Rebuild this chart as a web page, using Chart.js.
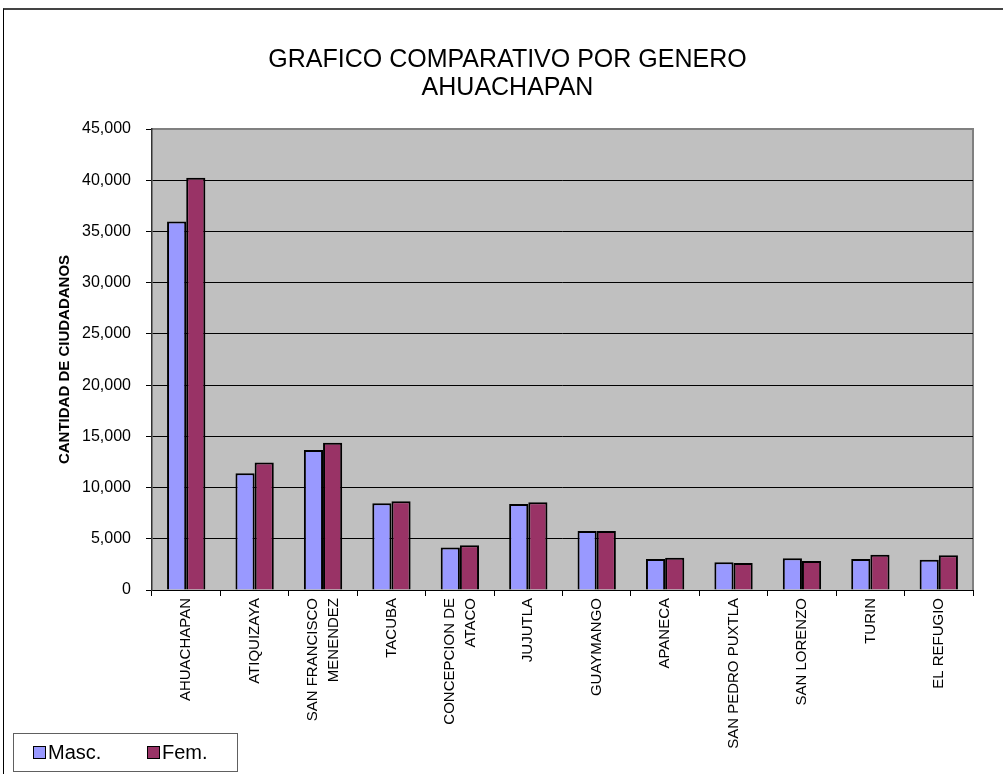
<!DOCTYPE html>
<html>
<head>
<meta charset="utf-8">
<script src="https://cdn.jsdelivr.net/npm/chart.js@4/dist/chart.umd.min.js"></script>
<style>
  html, body { margin: 0; padding: 0; background: #fff; }
  #frame {
    position: absolute; left: 3px; top: 8px; width: 1010px; height: 780px;
    border-top: 2px solid #444; border-left: 1px solid #000;
  }
  #wrap { position: absolute; left: 0; top: 0; width: 1003px; height: 774px; }
</style>
</head>
<body>
<div id="frame"></div>
<div id="wrap"><canvas id="chart"></canvas></div>
<script>
const categories = [
  "AHUACHAPAN",
  "ATIQUIZAYA",
  ["SAN FRANCISCO", "MENENDEZ"],
  "TACUBA",
  ["CONCEPCION DE", "ATACO"],
  "JUJUTLA",
  "GUAYMANGO",
  "APANECA",
  "SAN PEDRO PUXTLA",
  "SAN LORENZO",
  "TURIN",
  "EL REFUGIO",
];
const masc = [35980, 11400, 13660, 8460, 4140, 8400, 5770, 3030, 2700, 3090, 3030, 2960];
const fem = [40230, 12450, 14380, 8660, 4370, 8570, 5770, 3160, 2640, 2830, 3450, 3390];
const titleLines = ["GRAFICO COMPARATIVO POR GENERO", "AHUACHAPAN"];
const yTitle = "CANTIDAD DE CIUDADANOS";

const FONT = "'Liberation Sans', Arial, sans-serif";
Chart.defaults.color = "#000";
Chart.defaults.font.family = FONT;

// grey plot background plus the grey top/right border
const plotArea = {
  id: "plotArea",
  beforeDraw(chart) {
    const { ctx, chartArea: a } = chart;
    ctx.save();
    ctx.fillStyle = "#C0C0C0";
    ctx.fillRect(a.left, a.top, a.right - a.left, a.bottom - a.top);
    ctx.strokeStyle = "#808080";
    ctx.lineWidth = 2;
    ctx.beginPath();
    ctx.moveTo(a.left, a.top);
    ctx.lineTo(a.right, a.top);
    ctx.lineTo(a.right, a.bottom);
    ctx.stroke();
    ctx.restore();
  },
};

// centre two-line category labels on their tick instead of starting there
const centerMultiline = {
  id: "centerMultiline",
  beforeDraw(chart) {
    chart.scales.x.getLabelItems().forEach((item) => {
      if (Array.isArray(item.label) && !item._centred) {
        item.textOffset -= (item.label.length - 1) * item.font.lineHeight / 2;
        item._centred = true;
      }
    });
  },
};

// boxed legend in the lower left corner
const boxLegend = {
  id: "boxLegend",
  afterDraw(chart) {
    const ctx = chart.ctx;
    ctx.save();
    ctx.fillStyle = "#fff";
    ctx.fillRect(13, 733, 224, 38);
    ctx.strokeStyle = "#606060";
    ctx.lineWidth = 1;
    ctx.strokeRect(13.5, 733.5, 224, 38);
    const xs = [33, 147];
    ctx.font = "20px " + FONT;
    ctx.textBaseline = "middle";
    chart.data.datasets.forEach((ds, i) => {
      ctx.fillStyle = ds.backgroundColor;
      ctx.fillRect(xs[i], 746, 12, 12);
      ctx.strokeStyle = "#000";
      ctx.strokeRect(xs[i] + 0.5, 746.5, 12, 12);
      ctx.fillStyle = "#000";
      ctx.fillText(ds.label, xs[i] + 15, 753);
    });
    ctx.restore();
  },
};

new Chart(document.getElementById("chart"), {
  type: "bar",
  data: {
    labels: categories,
    datasets: [
      {
        label: "Masc.",
        data: masc,
        backgroundColor: "#9999FF",
        borderColor: "#000",
        borderWidth: 2,
      },
      {
        label: "Fem.",
        data: fem,
        backgroundColor: "#993366",
        borderColor: "#000",
        borderWidth: 2,
      },
    ],
  },
  options: {
    responsive: true,
    maintainAspectRatio: false,
    animation: false,
    barPercentage: 1.0,
    categoryPercentage: 0.56,
    layout: { padding: { left: 12, right: 0, top: 0, bottom: 0 } },
    plugins: {
      legend: { display: false },
      tooltip: { enabled: false },
      title: {
        display: true,
        text: titleLines,
        font: { size: 25, weight: "normal", lineHeight: 28 / 25 },
        padding: { top: 46, bottom: 27 },
        color: "#000",
      },
    },
    scales: {
      x: {
        grid: {
          offset: true,
          drawOnChartArea: false,
          color: "#000",
          tickLength: 6,
        },
        border: { color: "#000", width: 1 },
        ticks: {
          minRotation: 90,
          maxRotation: 90,
          autoSkip: false,
          padding: 2,
          font: { size: 15, lineHeight: 1.4 },
        },
        afterFit(scale) {
          scale.height = 184;
        },
      },
      y: {
        min: 0,
        max: 45000,
        grid: {
          color: (c) => (c.tick && c.tick.value === 45000 ? "#808080" : "#000"),
          tickColor: "#000",
          tickLength: 6,
        },
        border: { color: "#333", width: 1.5 },
        ticks: {
          stepSize: 5000,
          padding: 15,
          font: { size: 16 },
          callback: (v) => v.toLocaleString("en-US"),
        },
        title: {
          display: true,
          text: yTitle,
          font: { size: 15, weight: "bold" },
          padding: { top: 44, bottom: 0 },
        },
        afterFit(scale) {
          scale.width = 140;
        },
      },
      // empty right-hand gutter so the title centres like the original
      gutter: {
        type: "linear",
        position: "right",
        grid: { display: false },
        border: { display: false },
        ticks: { display: false },
        afterFit(scale) {
          scale.width = 30;
        },
      },
    },
  },
  plugins: [plotArea, centerMultiline, boxLegend],
});
</script>
</body>
</html>
